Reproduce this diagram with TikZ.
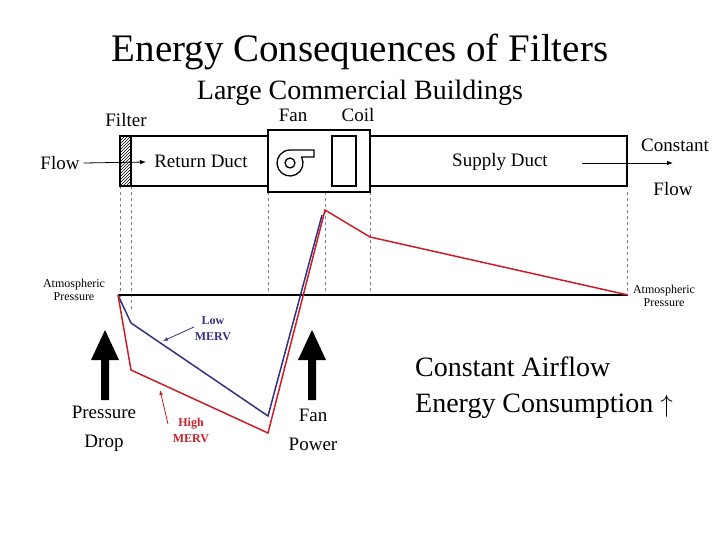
\documentclass[tikz,border=0pt]{standalone}
\usepackage{fontspec}
\setmainfont{Liberation Serif}
\usetikzlibrary{patterns,arrows.meta}
\definecolor{rd}{RGB}{200,30,40}
\definecolor{bl}{RGB}{50,50,130}
\begin{document}
\begin{tikzpicture}[x=1pt,y=-1pt,
  guide/.style={gray,dashed,thin},
  box/.style={draw,line width=1.3pt},
  lbl/.style={font=\fontsize{19}{22}\selectfont,inner sep=0},
  sm/.style={font=\fontsize{12}{13}\selectfont,align=center,inner sep=0},
  merv/.style={font=\bfseries\fontsize{12}{16}\selectfont,align=center,inner sep=0}]
\useasboundingbox (0,0) rectangle (720,540);
\node (title) at (360,52) {\fontsize{39}{42}\selectfont Energy Consequences of Filters};
\node (sub) at (360,93) {\fontsize{28}{30}\selectfont Large Commercial Buildings};
% dashed verticals
\foreach \x in {120,131} \draw[guide] (\x,186) -- (\x,310);
\foreach \x in {268,325,370,627} \draw[guide] (\x,192) -- (\x,295);
% ducts
\draw[box] (120,136) rectangle (627,186);
\draw[box,fill=white] (268,130) rectangle (370,192);
\draw[box,pattern=north east lines] (120,136) rectangle (131,186);
\node[box,minimum width=24,minimum height=50,inner sep=0] (coil) at (344,161) {};
% fan icon
\draw[line width=1.3pt] (290,150) -- (314,150) -- (314,157) -- (301.6,157.1) arc[start angle=-27,end angle=270,radius=13];
\draw[line width=1.3pt] (290,163) circle (5);
\node[lbl] (ret) at (201,161) {Return Duct};
\node[lbl] (sup) at (500,162) {Supply Duct};
\node[lbl] (fan) at (293,115) {Fan};
\node[lbl] (coilL) at (358,115) {Coil};
\node[lbl] (filt) at (126,120) {Filter};
\node[lbl] (flow) at (60,163) {Flow};
\coordinate (fin) at (146,162);
\draw[-{Latex[length=6pt]},thick] (flow.east) ++(4,0) -- (fin);
\node[lbl] (cons) at (675,145) {Constant};
\node[lbl] (cflow) at (673,189) {Flow};
\coordinate (cs) at (582,163); \coordinate (ce) at (673,163);
\draw[-{Latex[length=6pt]},thick] (cs) -- (ce);
% atmospheric line
\coordinate (a1) at (118,295); \coordinate (a2) at (628,295);
\draw[line width=1.3pt] (a1) -- (a2);
\node[sm] (atl) at (74,290) {Atmospheric\\Pressure};
\node[sm] (atr) at (664,296) {Atmospheric\\Pressure};
% curves
\draw[bl,line width=1.5pt] (a1) -- (131,323) -- (268,416) -- (322,215);
\draw[rd,line width=1.5pt] (a1) -- (131,370) -- (268,433) -- (325,210) -- (370,237) -- (a2);
\node[merv,text=bl] (low) at (213,329) {Low\\MERV};
\node[merv,text=rd] (high) at (191,430) {High\\MERV};
\coordinate (lowt) at (163,341);
\coordinate (hight) at (160,390);
\draw[bl,thick,-{Latex[length=5pt]}] (194,327) -- (lowt);
\draw[rd,thick,-{Latex[length=5pt]}] (168,424) -- (hight);
% big arrows
\fill (91,360) -- (105,330) -- (119,360) -- (109,360) -- (109,400) -- (101,400) -- (101,360) -- cycle;
\fill (298,360) -- (312,330) -- (326,360) -- (316,360) -- (316,400) -- (308,400) -- (308,360) -- cycle;
\node[lbl,align=center,font=\fontsize{19}{29}\selectfont] (pd) at (104,429) {Pressure\\Drop};
\node[lbl,align=center,font=\fontsize{19}{29}\selectfont] (fp) at (313,430) {Fan\\Power};
\node[align=left,inner sep=0,font=\fontsize{28}{36}\selectfont] (ce2) at (544,388) {Constant Airflow\\Energy Consumption $\uparrow$};
\end{tikzpicture}
\end{document}
